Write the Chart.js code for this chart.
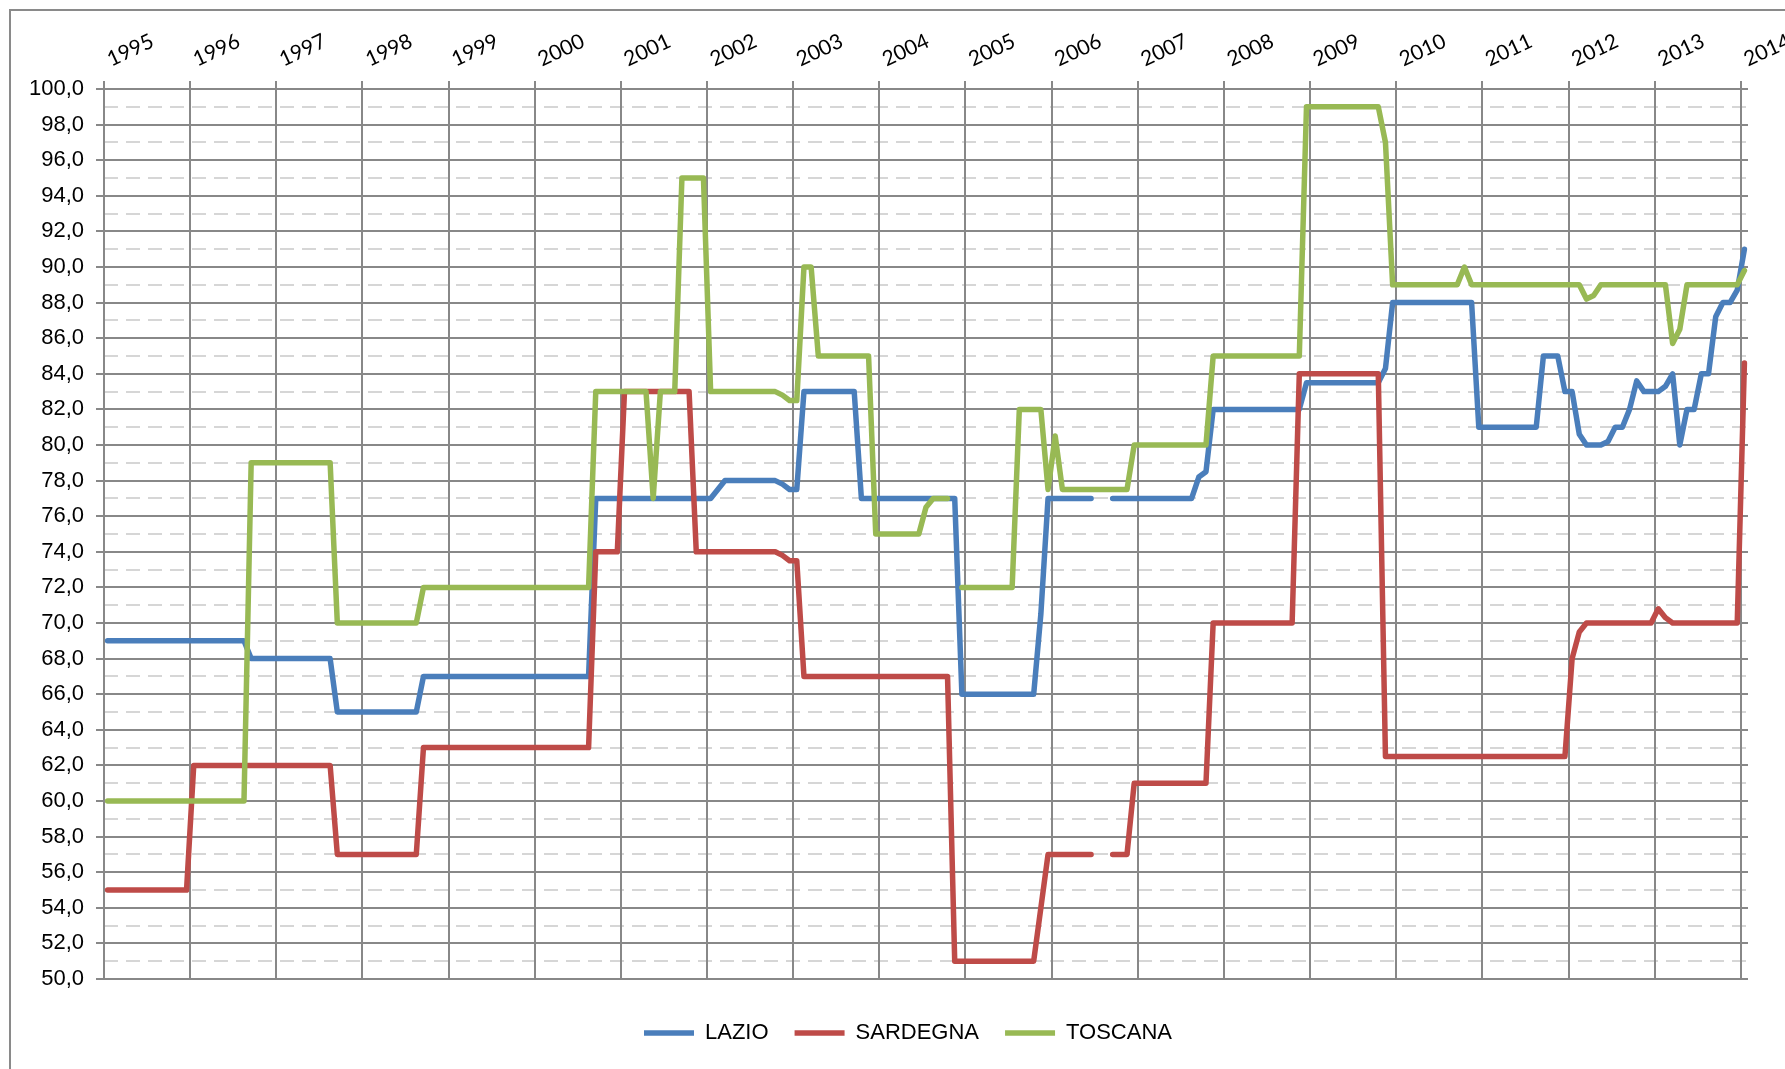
<!DOCTYPE html>
<html>
<head>
<meta charset="utf-8">
<script src="https://cdn.jsdelivr.net/npm/chart.js@4.4.1/dist/chart.umd.min.js"></script>
<style>
html,body{margin:0;padding:0;background:#fff;overflow:hidden}
canvas{display:block}
</style>
</head>
<body>
<canvas id="c" width="1785" height="1069"></canvas>
<script>
// ---- data (month index: 0 = Jan 1995) ----
const years = ['1995','1996','1997','1998','1999','2000','2001','2002','2003','2004','2005','2006','2007','2008','2009','2010','2011','2012','2013','2014'];
const seriesNames = ['LAZIO','SARDEGNA','TOSCANA'];
const yTicks = [50,52,54,56,58,60,62,64,66,68,70,72,74,76,78,80,82,84,86,88,90,92,94,96,98,100];
const yMinorTicks = [51,53,55,57,59,61,63,65,67,69,71,73,75,77,79,81,83,85,87,89,91,93,95,97,99];

const lazio = [[0,69],[19,69],[20,68],[31,68],[32,65],[43,65],[44,67],[67,67],[68,77],[84,77],[85,77.5],[86,78],[93,78],[94,77.8],[95,77.5],[96,77.5],[97,83],[104,83],[105,77],[118,77],[119,66],[129,66],[130,70.5],[131,77],[137,77],[138,null],[139,null],[140,77],[151,77],[152,78.2],[153,78.5],[154,82],[166,82],[167,83.5],[177,83.5],[178,84.3],[179,88],[190,88],[191,81],[199,81],[200,85],[202,85],[203,83],[204,83],[205,80.6],[206,80],[208,80],[209,80.2],[210,81],[211,81],[212,82],[213,83.6],[214,83],[216,83],[217,83.3],[218,84],[219,80],[220,82],[221,82],[222,84],[223,84],[224,87.2],[225,88],[226,88],[227,88.7],[228,91]];

const sardegna = [[0,55],[11,55],[12,62],[31,62],[32,57],[43,57],[44,63],[67,63],[68,74],[71,74],[72,83],[81,83],[82,74],[93,74],[94,73.8],[95,73.5],[96,73.5],[97,67],[117,67],[118,51],[129,51],[130,54],[131,57],[137,57],[138,null],[139,null],[140,57],[142,57],[143,61],[153,61],[154,70],[165,70],[166,84],[177,84],[178,62.5],[203,62.5],[204,68],[205,69.5],[206,70],[215,70],[216,70.8],[217,70.3],[218,70],[227,70],[228,84.6]];

const toscana = [[0,60],[19,60],[20,79],[31,79],[32,70],[43,70],[44,72],[67,72],[68,83],[75,83],[76,77],[77,83],[79,83],[80,95],[83,95],[84,83],[93,83],[94,82.8],[95,82.5],[96,82.5],[97,90],[98,90],[99,85],[106,85],[107,75],[113,75],[114,76.5],[115,77],[117,77],[118,null],[119,72],[126,72],[127,82],[130,82],[131,77.5],[132,80.5],[133,77.5],[142,77.5],[143,80],[153,80],[154,85],[166,85],[167,99],[177,99],[178,97],[179,89],[188,89],[189,90],[190,89],[205,89],[206,88.2],[207,88.4],[208,89],[217,89],[218,85.7],[219,86.5],[220,89],[227,89],[228,89.8]];

const colors = ['#4A7EBB','#BE4B48','#98B954'];
// --------------------------------------------

const SANS = "'Liberation Sans',Arial,sans-serif";
const GRID = '#888888';

function toPoints(arr){ return arr.map(([m,v]) => ({x:m, y:v})); }

const framePlugin = {
  id:'frame',
  beforeDraw(chart){
    const ctx = chart.ctx;
    ctx.save();
    ctx.fillStyle = '#fff';
    ctx.fillRect(0,0,chart.width,chart.height);
    ctx.strokeStyle = '#8a8a8a';
    ctx.lineWidth = 2;
    ctx.beginPath();
    ctx.moveTo(10, chart.height + 5);
    ctx.lineTo(10, 10);
    ctx.lineTo(chart.width + 5, 10);
    ctx.stroke();
    ctx.restore();
  }
};

const legendCenter = {
  id:'legendCenter',
  afterLayout(chart){
    const lg = chart.legend;
    if (!lg) return;
    const shift = 908 - (lg.left + lg.right) / 2;
    lg.left += shift; lg.right += shift;
  }
};

function build(){
  const datasets = [lazio, sardegna, toscana].map((arr, i) => ({
    label: seriesNames[i],
    data: toPoints(arr),
    borderColor: colors[i],
    backgroundColor: colors[i],
    borderWidth: 5.5,
    pointRadius: 0,
    pointHoverRadius: 0,
    fill: false,
    tension: 0,
    spanGaps: false,
    borderJoinStyle: 'round',
    borderCapStyle: 'round',
    order: 3 - i,
    xAxisID: 'x',
    yAxisID: 'y'
  }));

  new Chart(document.getElementById('c'), {
    type: 'line',
    data: { datasets },
    plugins: [framePlugin, legendCenter],
    options: {
      responsive: false,
      animation: false,
      events: [],
      devicePixelRatio: 1,
      layout: { padding: { top: 0, left: 0, right: 37, bottom: 15 } },
      plugins: {
        tooltip: { enabled: false },
        legend: {
          position: 'bottom',
          align: 'center',
          labels: {
            usePointStyle: true,
            pointStyle: 'line',
            pointStyleWidth: 50,
            padding: 26,
            color: '#000',
            font: { family: SANS, size: 22 },
            sort: (a, b) => a.datasetIndex - b.datasetIndex
          }
        }
      },
      scales: {
        x: {
          type: 'linear',
          position: 'top',
          min: -0.5,
          max: 228.5,
          afterBuildTicks: s => { s.ticks = years.map((y, k) => ({ value: k * 12 - 0.5 })); },
          afterFit: s => { s.height = 89; s.paddingLeft = 0; s.paddingRight = 0; },
          ticks: {
            autoSkip: false,
            minRotation: 25,
            maxRotation: 25,
            padding: 9,
            labelOffset: 15,
            color: '#000',
            font: { family: 'Lato', size: 21 },
            callback: (v, i) => years[i]
          },
          grid: { color: GRID, lineWidth: 2, tickLength: 8, tickColor: GRID, tickWidth: 2 },
          border: { display: false }
        },
        xb: {
          type: 'linear',
          position: 'bottom',
          min: -0.5,
          max: 228.5,
          ticks: { display: false },
          grid: { display: false },
          border: { display: false },
          afterFit: s => { s.height = 17; s.paddingLeft = 0; s.paddingRight = 0; }
        },
        y: {
          type: 'linear',
          position: 'left',
          min: 50,
          max: 100,
          afterBuildTicks: s => { s.ticks = yTicks.map(v => ({ value: v })); },
          afterFit: s => { s.width = 104; },
          ticks: {
            padding: 12,
            color: '#000',
            font: { family: SANS, size: 22 },
            callback: v => Number(v).toFixed(1).replace('.', ',')
          },
          grid: { color: GRID, lineWidth: 2, tickLength: 8, tickColor: GRID, tickWidth: 2 },
          border: { display: false }
        },
        ym: {
          type: 'linear',
          position: 'left',
          min: 50,
          max: 100,
          afterBuildTicks: s => { s.ticks = yMinorTicks.map(v => ({ value: v })); },
          afterFit: s => { s.width = 0; },
          ticks: { display: false },
          grid: { color: '#D6D6D6', lineWidth: 2, drawTicks: false, z: -2 },
          border: { display: false, dash: [14, 8] }
        }
      }
    }
  });
}

const fontLoads = [
  document.fonts.load("21px Lato"),
  document.fonts.load("22px 'Liberation Sans'")
];
Promise.all(fontLoads).catch(() => {}).then(build);
</script>
</body>
</html>
